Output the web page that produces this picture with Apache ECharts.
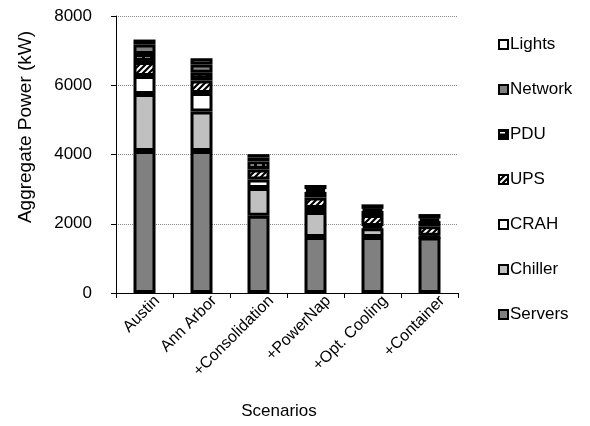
<!DOCTYPE html>
<html>
<head>
<meta charset="utf-8">
<script src="https://cdn.jsdelivr.net/npm/echarts@6/dist/echarts.min.js"></script>
<style>
html,body{margin:0;padding:0;background:#fff;}
#chart{width:590px;height:426px;}
</style>
</head>
<body>
<div id="chart"></div>
<script>
const categories = ['Austin', 'Ann Arbor', '+Consolidation', '+PowerNap', '+Opt. Cooling', '+Container'];
const servers = [4100, 4100, 2230, 1620, 1620, 1600];
const chiller = [1650, 1140, 800, 720, 250, 0];
const crah    = [520, 536, 250, 115, 65, 50];
const ups     = [400, 364, 290, 305, 315, 280];
const pdu     = [230, 220, 230, 160, 120, 150];
const network = [275, 240, 110, 80, 60, 70];
const lights  = [145, 180, 100, 120, 130, 130];
const yTicks = [0, 2000, 4000, 6000, 8000];

function hatch() {
  const c = document.createElement('canvas');
  c.width = 6; c.height = 6;
  const g = c.getContext('2d');
  g.fillStyle = '#fff'; g.fillRect(0, 0, 6, 6);
  g.strokeStyle = '#000'; g.lineWidth = 2.2;
  g.beginPath();
  g.moveTo(-1, 7); g.lineTo(7, -1);
  g.moveTo(-4, 4); g.lineTo(4, -4);
  g.moveTo(2, 10); g.lineTo(10, 2);
  g.stroke();
  return {image: c, repeat: 'repeat'};
}
function dashes() {
  const c = document.createElement('canvas');
  c.width = 8; c.height = 6;
  const g = c.getContext('2d');
  g.fillStyle = '#000'; g.fillRect(0, 0, 8, 6);
  g.fillStyle = '#fff'; g.fillRect(1, 2, 5, 1.5);
  return {image: c, repeat: 'repeat'};
}

const font = 'Liberation Sans, Arial, sans-serif';
const chart = echarts.init(document.getElementById('chart'), null, {renderer: 'canvas'});

function mk(name, data, color) {
  return {
    name: name, type: 'bar', stack: 'total', data: data, barWidth: 22,
    itemStyle: {color: color, borderColor: '#000', borderWidth: 3},
    emphasis: {disabled: true}
  };
}

chart.setOption({
  animation: false,
  backgroundColor: '#fff',
  textStyle: {fontFamily: font},
  grid: {left: 116, right: 132, top: 16, bottom: 133, containLabel: false},
  legend: {
    orient: 'vertical', left: 493, top: 31, itemWidth: 9, itemHeight: 9, itemGap: 28,
    icon: 'rect',
    itemStyle: {borderWidth: 2, borderColor: '#000'},
    textStyle: {fontSize: 17, color: '#000', fontFamily: font, lineHeight: 17, padding: [0, 0, 0, -3]},
    data: ['Lights', 'Network', 'PDU', 'UPS', 'CRAH', 'Chiller', 'Servers']
  },
  xAxis: {
    type: 'category', data: categories,
    name: 'Scenarios', nameLocation: 'middle', nameGap: 110,
    nameTextStyle: {fontSize: 17, color: '#000', fontFamily: font, padding: [0, 16, 0, 0]},
    axisLine: {lineStyle: {color: '#000', width: 1}},
    axisTick: {show: true, length: 5, lineStyle: {color: '#000'}},
    axisLabel: {rotate: 45, fontSize: 16, color: '#000', fontFamily: font, margin: 4, interval: 0,
                verticalAlign: 'top', padding: [2, -8, 0, 0]}
  },
  yAxis: {
    type: 'value', min: yTicks[0], max: yTicks[yTicks.length - 1], interval: 2000,
    axisLine: {show: true, lineStyle: {color: '#000', width: 1}},
    axisTick: {show: true, length: 5, lineStyle: {color: '#000'}},
    axisLabel: {fontSize: 17, color: '#000', fontFamily: font, margin: 24, formatter: function (v) { return String(v); }},
    splitLine: {show: true, lineStyle: {color: '#888', type: [1, 1], width: 1}}
  },
  graphic: [{
    type: 'text', x: 26, y: 127, rotation: Math.PI / 2,
    style: {text: 'Aggregate Power (kW)', font: '19px ' + font, fill: '#000', textAlign: 'center', textVerticalAlign: 'middle'}
  }],
  series: [
    mk('Servers', servers, '#808080'),
    mk('Chiller', chiller, '#c0c0c0'),
    mk('CRAH', crah, '#ffffff'),
    mk('UPS', ups, hatch()),
    mk('PDU', pdu, dashes()),
    mk('Network', network, '#808080'),
    mk('Lights', lights, '#ffffff')
  ]
});
</script>
</body>
</html>
